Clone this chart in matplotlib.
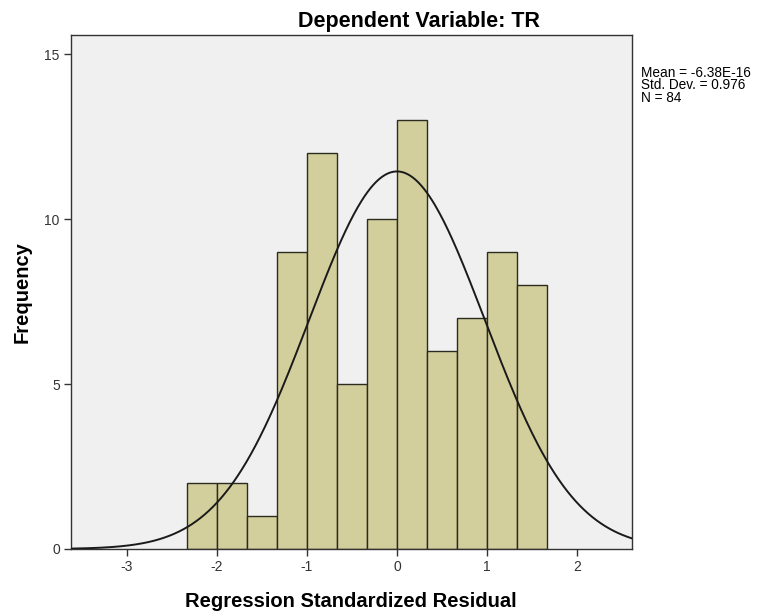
import numpy as np
import matplotlib.pyplot as plt

# histogram
bin_edges = [-2.333, -2.0, -1.667, -1.333, -1.0, -0.667, -0.333,
             0.0, 0.333, 0.667, 1.0, 1.333, 1.667]
counts = [2, 2, 1, 9, 12, 5, 10, 13, 6, 7, 9, 8]

mean = -6.38e-16
std = 0.976
n_obs = 84

x_ticks = [-3, -2, -1, 0, 1, 2]
y_ticks = [0, 5, 10, 15]


def main():
    plt.rcParams["font.family"] = ["Liberation Sans", "DejaVu Sans"]
    plt.rcParams["axes.unicode_minus"] = False

    fig = plt.figure(figsize=(7.59, 6.11), dpi=100)
    ax = fig.add_axes([0.0935, 0.1015, 0.7392, 0.8412])
    ax.set_facecolor("#f0f0f0")

    edges = np.array(bin_edges)
    widths = np.diff(edges)
    ax.bar(edges[:-1], counts, width=widths, align="edge",
           color="#d3cf9c", edgecolor="#2b2b20", linewidth=1.0, zorder=2)

    # normal curve scaled to the counts
    bw = np.mean(widths)
    xs = np.linspace(-3.62, 2.61, 400)
    ys = n_obs * bw * np.exp(-0.5 * ((xs - mean) / std) ** 2) / (std * np.sqrt(2 * np.pi))
    ax.plot(xs, ys, color="#1a1a1a", linewidth=1.4, zorder=3)

    ax.set_xlim(-3.62, 2.61)
    ax.set_ylim(0, 15.58)
    ax.set_xticks(x_ticks)
    ax.set_yticks(y_ticks)
    ax.tick_params(direction="out", length=5, width=1, colors="#333333",
                   labelsize=10, labelcolor="#333333", pad=3)
    for s in ax.spines.values():
        s.set_color("#333333")
        s.set_linewidth(1.0)

    fig.text(419 / 759, 1 - 27 / 611, "Dependent Variable: TR",
             ha="center", va="baseline", fontsize=15.5, fontweight="bold")
    fig.text(351 / 759, 1 - 607 / 611, "Regression Standardized Residual",
             ha="center", va="baseline", fontsize=14.5, fontweight="bold")
    fig.text(22 / 759, 1 - 292 / 611, "Frequency", rotation=90,
             ha="center", va="center", fontsize=14.5, fontweight="bold")

    fig.text(641 / 759, 1 - 66 / 611,
             "Mean = -6.38E-16\nStd. Dev. = 0.976\nN = 84",
             ha="left", va="top", fontsize=9.8, linespacing=0.86)

    fig.savefig("out.png", dpi=100)


if __name__ == "__main__":
    main()
